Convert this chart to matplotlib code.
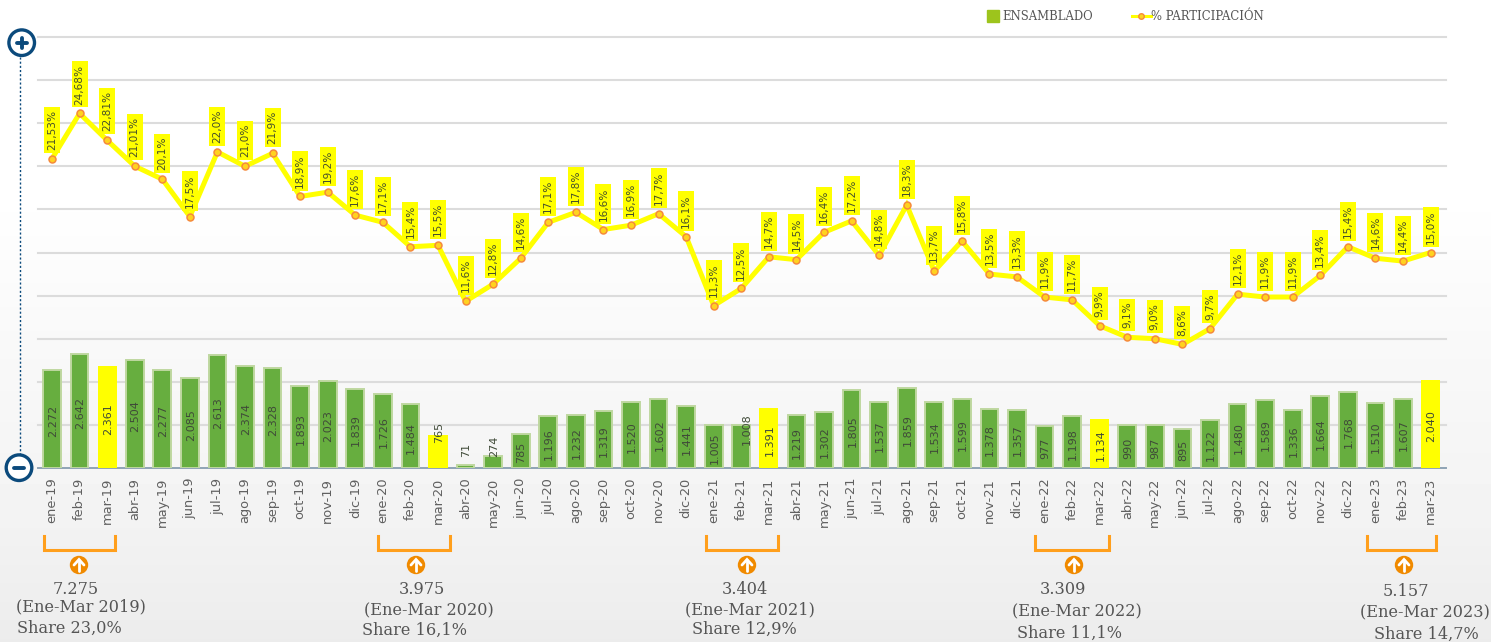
import matplotlib
matplotlib.use("Agg")
import matplotlib.pyplot as plt
from matplotlib.lines import Line2D
from matplotlib.patches import Circle
import numpy as np

months = ["ene", "feb", "mar", "abr", "may", "jun", "jul", "ago", "sep", "oct", "nov", "dic"]
labels = [f"{m}-{y}" for y in (19, 20, 21, 22) for m in months] + ["ene-23", "feb-23", "mar-23"]

ensamblado = [2272, 2642, 2361, 2504, 2277, 2085, 2613, 2374, 2328, 1893, 2023, 1839,
              1726, 1484, 765, 71, 274, 785, 1196, 1232, 1319, 1520, 1602, 1441,
              1005, 1008, 1391, 1219, 1302, 1805, 1537, 1859, 1534, 1599, 1378, 1357,
              977, 1198, 1134, 990, 987, 895, 1122, 1480, 1589, 1336, 1664, 1768,
              1510, 1607, 2040]
participacion = [21.53, 24.68, 22.81, 21.01, 20.1, 17.5, 22.0, 21.0, 21.9, 18.9, 19.2, 17.6,
                 17.1, 15.4, 15.5, 11.6, 12.8, 14.6, 17.1, 17.8, 16.6, 16.9, 17.7, 16.1,
                 11.3, 12.5, 14.7, 14.5, 16.4, 17.2, 14.8, 18.3, 13.7, 15.8, 13.5, 13.3,
                 11.9, 11.7, 9.9, 9.1, 9.0, 8.6, 9.7, 12.1, 11.9, 11.9, 13.4, 15.4,
                 14.6, 14.4, 15.0]

totals = ["7.275", "3.975", "3.404", "3.309", "5.157"]
periods = ["(Ene-Mar 2019)", "(Ene-Mar 2020)", "(Ene-Mar 2021)", "(Ene-Mar 2022)", "(Ene-Mar 2023)"]
shares = ["Share 23,0%", "Share 16,1%", "Share 12,9%", "Share 11,1%", "Share 14,7%"]

W, H = 1491, 642
GREEN = "#67ae3f"
YELLOW = "#ffff00"
ORANGE = "#ff9f1c"
NAVY = "#0b4a7c"
GREY = "#555555"
SERIF = "DejaVu Serif"

fig = plt.figure(figsize=(W / 100, H / 100), dpi=100)

# background fades from white to light grey
bg = fig.add_axes([0, 0, 1, 1], zorder=-1)
shade = np.interp(np.arange(H), [0, 200, 340, 500, 642], [1.0, 0.998, 0.975, 0.955, 0.925])
bg.imshow(shade[:, None], cmap="gray", vmin=0, vmax=1, aspect="auto")
bg.axis("off")

ax = fig.add_axes([38 / W, 1 - 468 / H, (1446 - 38) / W, (468 - 37) / H])
ax.patch.set_alpha(0)
x = np.arange(len(labels))
colors = [YELLOW if m.startswith("mar") else GREEN for m in labels]

for i, v in enumerate(ensamblado):
    if colors[i] == YELLOW:
        ax.bar(i, v, width=0.69, color=YELLOW, zorder=3)
    else:
        ax.bar(i, v, width=0.64, color=GREEN, edgecolor="#bfd8a0", linewidth=1.4, zorder=3)

# a few labels sit outside the bar in the original
lifted = {14: 835, 15: 415, 16: 510, 25: 905}
for i, v in enumerate(ensamblado):
    ax.text(i + (0.2 if i == 25 else 0.03), lifted.get(i, v / 2 - 40), f"{v:,}".replace(",", "."),
            rotation=90, ha="center", va="center", fontsize=8, color="#3f4a38", zorder=4)

ax.set_xlim(-0.508, 50.56)
ax.set_ylim(0, 10000)
ax.set_yticks(np.arange(1000, 10001, 1000))
ax.yaxis.grid(True, color="#dcdcdc", linewidth=1.5, clip_on=False)
ax.set_axisbelow(True)
ax.tick_params(axis="y", length=0, labelleft=False)
ax.tick_params(axis="x", length=0, pad=7, labelsize=9.4, labelcolor="#606060")
ax.set_xticks(x)
ax.set_xticklabels(labels, rotation=90)
for s in ("top", "left", "right"):
    ax.spines[s].set_visible(False)
ax.spines["bottom"].set_color("#8fa3b5")
ax.spines["bottom"].set_linestyle((0, (1, 1)))
ax.spines["bottom"].set_linewidth(1.4)

ax2 = ax.twinx()
ax2.patch.set_alpha(0)
ax2.set_ylim(0, 30)
ax2.set_yticks([])
for s in ax2.spines.values():
    s.set_visible(False)
ax2.plot(x, participacion, color=YELLOW, linewidth=3.6, solid_joinstyle="miter", zorder=3)
for i, v in enumerate(participacion):
    txt = f"{v:.2f}" if i < 4 else f"{v:.1f}"
    ax2.annotate(txt.replace(".", ",") + "%", (i, v), xytext=(0, 6.4), textcoords="offset points",
                 rotation=90, ha="center", va="bottom", fontsize=7.6, color="#46502a",
                 bbox=dict(boxstyle="square,pad=0.28", facecolor=YELLOW, edgecolor="none"), zorder=4)
# markers stay above the label boxes
ax2.plot(x, participacion, linestyle="none", marker="o", markersize=5, markerfacecolor="#ffd21f",
         markeredgecolor="#f58a3c", markeredgewidth=1.1, zorder=5)

ax2.legend(handles=[Line2D([], [], linestyle="none", marker="s", markersize=8, color="#9dc41c",
                           label="ENSAMBLADO"),
                    Line2D([], [], color=YELLOW, linewidth=2.2, marker="o", markersize=4,
                           markerfacecolor="#ffd21f", markeredgecolor="#f58a3c",
                           label="% PARTICIPACIÓN")],
           ncol=2, frameon=False, loc="center left", bbox_to_anchor=(983 / W, 1 - 17 / H),
           bbox_transform=fig.transFigure, handlelength=1.63, handletextpad=0.05, columnspacing=3.3,
           borderpad=0, borderaxespad=0,
           prop=dict(family=SERIF, size=8.4), labelcolor=GREY)

# overlay in pixel units for the zoom icons, brackets and period notes
ov = fig.add_axes([0, 0, 1, 1], zorder=5)
ov.set_xlim(0, W)
ov.set_ylim(H, 0)
ov.axis("off")

ov.plot([19.5, 19.5], [57, 455], color=NAVY, linewidth=1, linestyle=(0, (1.5, 1.5)))
for cx, cy in [(21.7, 42.7), (19, 467.7)]:
    ov.add_patch(Circle((cx, cy), 12.8, facecolor="white", edgecolor=NAVY, linewidth=2.4, zorder=6))
    ov.plot([cx - 5, cx + 5], [cy, cy], color=NAVY, linewidth=2.8, solid_capstyle="round", zorder=7)
ov.plot([21.7, 21.7], [37.7, 47.7], color=NAVY, linewidth=2.8, solid_capstyle="round", zorder=7)

brackets = [(44, 115), (378, 450), (706, 778), (1035, 1109), (1367, 1436)]
arrows = [79, 416, 747, 1074, 1404]
total_x = [76, 422, 745, 1063, 1406]
period_x = [81, 429, 750, 1077, 1425]
share_x = [17, 362, 692, 1017, 1374]
total_y = [589, 590, 589, 590, 591]
period_y = [607, 611, 610, 612, 613]
share_y = [628, 630, 629, 633, 634]

for k in range(5):
    x0, x1 = brackets[k]
    ov.plot([x0, x0, x1, x1], [536, 550, 550, 536], color=ORANGE, linewidth=2.2, solid_joinstyle="miter")
    a = arrows[k]
    ov.add_patch(Circle((a, 565), 9.2, facecolor="#f08a00", edgecolor="none"))
    ov.plot([a, a], [571, 560], color="white", linewidth=2, solid_capstyle="round")
    ov.plot([a - 5, a, a + 5], [565, 559.5, 565], color="white", linewidth=2,
            solid_capstyle="round", solid_joinstyle="miter")
    ov.text(total_x[k], total_y[k], totals[k], ha="center", va="center", family=SERIF, fontsize=11.6, color=GREY)
    ov.text(period_x[k], period_y[k], periods[k], ha="center", va="center", family=SERIF, fontsize=11.6, color=GREY)
    ov.text(share_x[k], share_y[k], shares[k], ha="left", va="center", family=SERIF, fontsize=11.6, color=GREY)

fig.savefig("out.png", dpi=100)
